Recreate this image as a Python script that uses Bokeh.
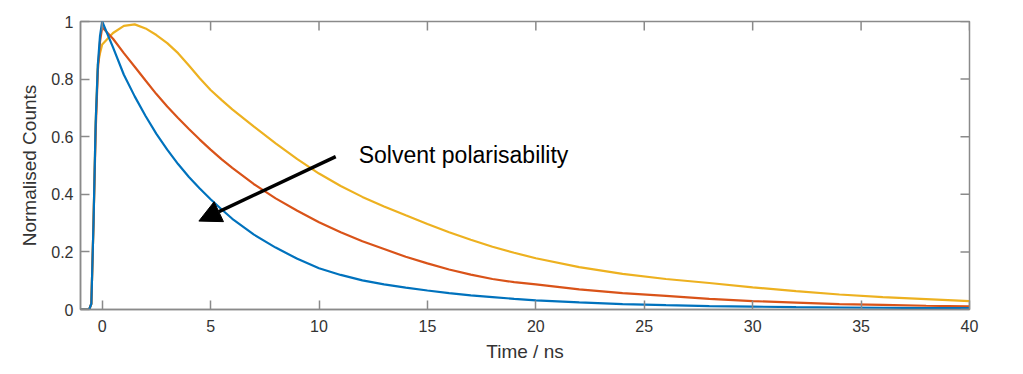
from bokeh.plotting import figure
from bokeh.models import (FixedTicker, CustomJSTickFormatter, Arrow,
                          NormalHead, Label, ColumnDataSource)
from bokeh.embed import file_html
from bokeh.resources import INLINE

# ---- data (time in ns, normalised counts) ----
time_ns = [-1, -0.6, -0.5, -0.4, -0.3, -0.2, -0.1, 0, 0.5, 1, 1.5, 2, 2.5, 3, 3.5, 4, 4.5,
           5, 5.5, 6, 7, 8, 9, 10, 11, 12, 13, 14, 15, 16, 17, 18, 19, 20,
           22, 24, 26, 28, 30, 32, 34, 36, 38, 40]

blue_counts = [0, 0, 0.02, 0.30, 0.65, 0.85, 0.95, 1.0, 0.91, 0.815, 0.74, 0.672, 0.61, 0.555, 0.505, 0.46, 0.42,
               0.383, 0.348, 0.315, 0.26, 0.215, 0.176, 0.143, 0.12, 0.101, 0.087, 0.076, 0.066, 0.057, 0.049, 0.043, 0.037, 0.032,
               0.025, 0.019, 0.015, 0.012, 0.010, 0.008, 0.007, 0.006, 0.005, 0.005]

orange_counts = [0, 0, 0.02, 0.30, 0.62, 0.83, 0.93, 0.98, 0.94, 0.89, 0.843, 0.795, 0.748, 0.705, 0.665, 0.627, 0.59,
                 0.555, 0.522, 0.492, 0.435, 0.386, 0.343, 0.303, 0.268, 0.237, 0.21, 0.183, 0.16, 0.139, 0.121, 0.106, 0.095, 0.087,
                 0.07, 0.057, 0.047, 0.037, 0.029, 0.024, 0.019, 0.016, 0.013, 0.011]

yellow_counts = [0, 0, 0.02, 0.30, 0.65, 0.85, 0.89, 0.92, 0.96, 0.985, 0.99, 0.976, 0.953, 0.925, 0.89, 0.847, 0.803,
                 0.762, 0.728, 0.695, 0.635, 0.577, 0.522, 0.472, 0.429, 0.391, 0.358, 0.327, 0.297, 0.268, 0.242, 0.218, 0.197, 0.178,
                 0.147, 0.124, 0.106, 0.092, 0.077, 0.064, 0.052, 0.043, 0.036, 0.029]

x_ticks = [0, 5, 10, 15, 20, 25, 30, 35, 40]
y_ticks = [0, 0.2, 0.4, 0.6, 0.8, 1.0]

annotation_text = "Solvent polarisability"

# ---- figure ----
FONT = "Liberation Sans"
AXIS_COL = "#8a8a8a"
TEXT_COL = "#333333"
X0, X1, Y0, Y1 = -1, 40, 0, 1
FW, FH = 889, 288
TICK = 9

p = figure(frame_width=FW, frame_height=FH, x_range=(X0, X1), y_range=(Y0, Y1),
           output_backend="svg", toolbar_location=None,
           min_border_left=80, min_border_right=54, min_border_top=21, min_border_bottom=65,
           background_fill_color="white", border_fill_color="white")
p.grid.visible = False
p.outline_line_color = AXIS_COL
p.outline_line_width = 1.5

src = ColumnDataSource(dict(t=time_ns, b=blue_counts, o=orange_counts, y=yellow_counts))
p.line("t", "y", source=src, color="#EDB120", line_width=2.2)
p.line("t", "o", source=src, color="#D95319", line_width=2.2)
p.line("t", "b", source=src, color="#0072BD", line_width=2.2)

def style_axis(ax):
    ax.axis_line_color = AXIS_COL
    ax.axis_line_width = 1.5
    ax.major_tick_line_color = AXIS_COL
    ax.major_tick_line_width = 1.5
    ax.major_tick_in = TICK
    ax.major_tick_out = 0
    ax.minor_tick_in = 0
    ax.minor_tick_out = 0
    ax.minor_tick_line_color = None
    ax.major_label_text_font = FONT
    ax.major_label_text_font_size = "16px"
    ax.major_label_text_color = TEXT_COL
    ax.axis_label_text_font = FONT
    ax.axis_label_text_font_size = "19px"
    ax.axis_label_text_font_style = "normal"
    ax.axis_label_text_color = TEXT_COL

fmt = CustomJSTickFormatter(code="return String(Math.round(tick*10)/10);")

xa = p.xaxis[0]
xa.ticker = FixedTicker(ticks=x_ticks)
xa.formatter = fmt
xa.axis_label = "Time / ns"
style_axis(xa)
xa.major_label_standoff = 10
xa.axis_label_standoff = 6

ya = p.yaxis[0]
ya.ticker = FixedTicker(ticks=y_ticks)
ya.formatter = fmt
ya.axis_label = "Normalised Counts"
style_axis(ya)
ya.major_label_standoff = 7
ya.axis_label_standoff = 8

# inward ticks on the top and right edges of the box (MATLAB "box on")
ty = TICK * (Y1 - Y0) / FH
tx = TICK * (X1 - X0) / FW
p.segment(x0=x_ticks, y0=[Y1] * len(x_ticks), x1=x_ticks, y1=[Y1 - ty] * len(x_ticks),
          line_color=AXIS_COL, line_width=1.5)
p.segment(x0=[X1] * len(y_ticks), y0=y_ticks, x1=[X1 - tx] * len(y_ticks), y1=y_ticks,
          line_color=AXIS_COL, line_width=1.5)

# ---- annotation ----
p.add_layout(Arrow(end=NormalHead(size=22, fill_color="black", line_color="black"),
                   x_start=10.77, y_start=0.531, x_end=4.46, y_end=0.307,
                   line_color="black", line_width=3.5))
p.add_layout(Label(x=11.83, y=0.535, text=annotation_text, text_font=FONT,
                   text_font_size="23px", text_color="black", text_baseline="middle"))

open("out.html", "w").write(file_html(p, INLINE))
